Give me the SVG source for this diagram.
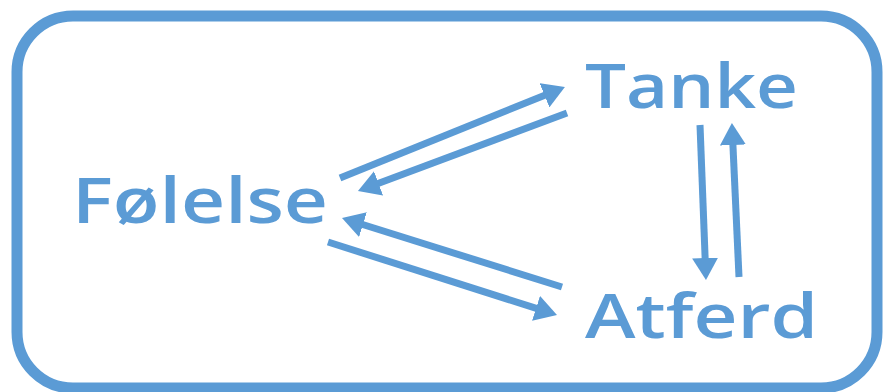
<svg xmlns="http://www.w3.org/2000/svg" width="883" height="392" viewBox="0 0 883 392">
  <style>
    .frame { fill: #ffffff; stroke: #5b9bd5; stroke-width: 11; }
    .label { font-family: "Open Sans", "Liberation Sans", sans-serif; font-weight: 600; fill: #5b9bd5; }
    .conn { stroke: #5b9bd5; stroke-width: 7; fill: none; marker-end: url(#head); }
  </style>
  <defs>
    <marker id="head" markerUnits="userSpaceOnUse" viewBox="0 0 22 26" refX="7" refY="13" markerWidth="22" markerHeight="26" orient="auto">
      <path d="M0,0 L22,13 L0,26 z" fill="#5b9bd5"/>
    </marker>
  </defs>
  <rect width="883" height="392" fill="#ffffff"/>
  <rect class="frame" x="17" y="16" width="860" height="372" rx="56" ry="56"/>
  <g id="connectors">
    <line class="conn" x1="340" y1="178" x2="551" y2="92.7"/>
    <line class="conn" x1="567" y1="113" x2="372" y2="185.8"/>
    <line class="conn" x1="562" y1="287" x2="356.3" y2="222.5"/>
    <line class="conn" x1="328" y1="242" x2="542.7" y2="310.4"/>
    <line class="conn" x1="700" y1="125" x2="705.4" y2="265"/>
    <line class="conn" x1="739" y1="277" x2="732.6" y2="138"/>
  </g>
  <g id="tanke">
    <text class="label" x="585" y="108" font-size="61" textLength="213" lengthAdjust="spacingAndGlyphs">Tanke</text>
  </g>
  <g id="folelse">
    <text class="label" x="72" y="223" font-size="63" textLength="256" lengthAdjust="spacingAndGlyphs">Følelse</text>
  </g>
  <g id="atferd">
    <text class="label" x="585" y="338" font-size="61" textLength="233" lengthAdjust="spacingAndGlyphs">Atferd</text>
  </g>
</svg>
